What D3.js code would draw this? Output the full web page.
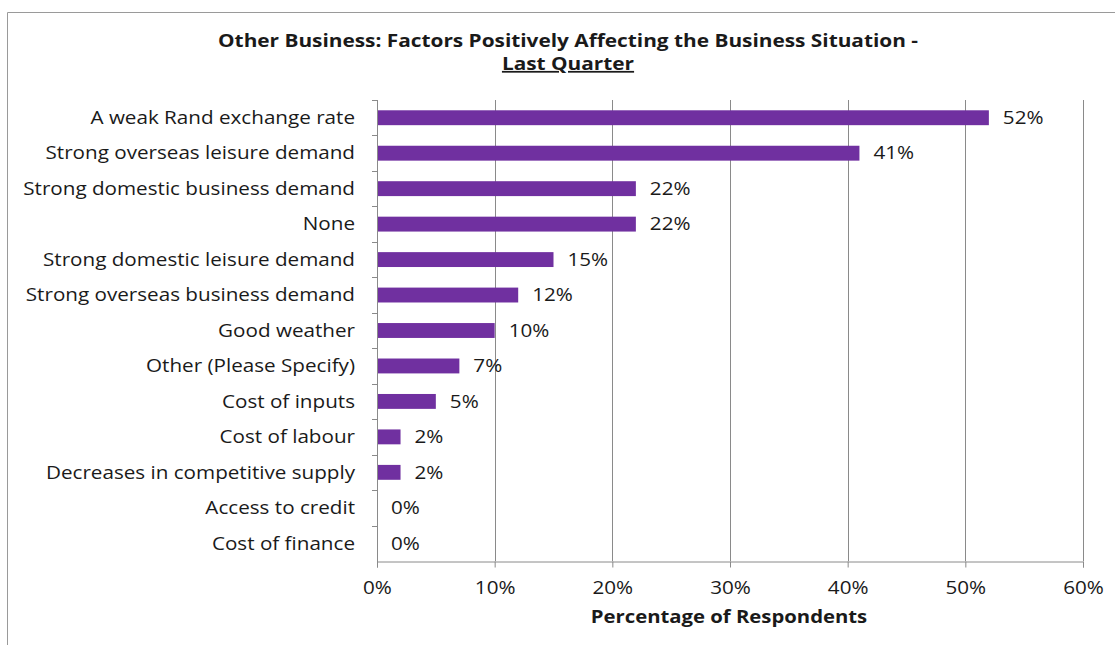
<!DOCTYPE html>
<html>
<head>
<meta charset="utf-8">
<script src="https://cdn.jsdelivr.net/npm/d3@7"></script>
<style>
  html, body { margin: 0; padding: 0; background: #fff; }
  svg { display: block; }
  text { font-family: "Open Sans", sans-serif; fill: #1a1a1a; }
</style>
</head>
<body>
<svg id="chart" width="1115" height="645"></svg>
<script>
// Survey categories, top to bottom
const categories = [
  "A weak Rand exchange rate",
  "Strong overseas leisure demand",
  "Strong domestic business demand",
  "None",
  "Strong domestic leisure demand",
  "Strong overseas business demand",
  "Good weather",
  "Other (Please Specify)",
  "Cost of inputs",
  "Cost of labour",
  "Decreases in competitive supply",
  "Access to credit",
  "Cost of finance"
];
// Share of respondents (%)
const values = [52, 41, 22, 22, 15, 12, 10, 7, 5, 2, 2, 0, 0];
// Horizontal axis ticks (%)
const xTicks = [0, 10, 20, 30, 40, 50, 60];

const titleLine1 = "Other Business: Factors Positively Affecting the Business Situation -";
const titleLine2 = "Last Quarter";
const xTitle = "Percentage of Respondents";

const svg = d3.select("#chart");
const W = 1115, H = 645;
const plot = { left: 377, right: 1083, top: 100, bottom: 561 };
const gridColor = "#8a8a8a";
const barColor = "#7030A0";
const labelFont = 17.5;
const SX = 1.18; // horizontal widening of the text glyphs

// Places a text at (x, y) with its glyphs widened horizontally
function wideText(parent, x, y, str, opts = {}) {
  return parent.append("text")
    .attr("transform", `translate(${x},${y}) scale(${opts.sx || SX},1)`)
    .attr("text-anchor", opts.anchor || "start")
    .attr("dy", opts.dy || 0)
    .attr("font-size", opts.size || labelFont)
    .attr("font-weight", opts.weight || "normal")
    .text(str);
}

// Outer chart frame
svg.append("path")
  .attr("d", `M7.5,${H} L7.5,12.5 L${W},12.5`)
  .attr("fill", "none").attr("stroke", "#9a9a9a").attr("stroke-width", 1);

const x = d3.scaleLinear().domain([0, 60]).range([plot.left, plot.right]);
const y = d3.scaleBand().domain(categories).range([plot.top, plot.bottom]).paddingInner(0.58).paddingOuter(0.29);

// Vertical gridlines
svg.append("g").selectAll("line").data(xTicks.filter(d => d > 0)).join("line")
  .attr("x1", d => Math.round(x(d)) + 0.5).attr("x2", d => Math.round(x(d)) + 0.5)
  .attr("y1", plot.top).attr("y2", plot.bottom)
  .attr("stroke", gridColor).attr("stroke-width", 1);

// Bars
svg.append("g").selectAll("rect").data(values).join("rect")
  .attr("x", x(0))
  .attr("y", (d, i) => y(categories[i]))
  .attr("width", d => x(d) - x(0))
  .attr("height", y.bandwidth())
  .attr("fill", barColor);

// Value labels
const gv = svg.append("g");
values.forEach((d, i) => {
  wideText(gv, x(d) + 14, y(categories[i]) + y.bandwidth() / 2, d + "%", { dy: "0.36em" });
});

// Bottom axis
const xAxis = d3.axisBottom(x).tickValues(xTicks).tickFormat(d => d + "%").tickSize(6).tickPadding(14);
const gx = svg.append("g").attr("transform", `translate(0,${plot.bottom + 0.5})`).call(xAxis);
gx.select(".domain").attr("stroke", gridColor);
gx.selectAll(".tick line").attr("stroke", gridColor);
gx.selectAll(".tick text")
  .attr("font-size", labelFont)
  .attr("font-family", "'Open Sans', sans-serif")
  .attr("transform", `scale(${SX},1)`)
  .attr("fill", "#1a1a1a");

// Left axis: tick marks sit between categories
const yEdges = d3.scaleLinear().domain([0, categories.length]).range([plot.top, plot.bottom]);
const gy = svg.append("g");
gy.append("line")
  .attr("x1", plot.left + 0.5).attr("x2", plot.left + 0.5)
  .attr("y1", plot.top).attr("y2", plot.bottom + 6)
  .attr("stroke", gridColor);
gy.selectAll("line.edge").data(d3.range(categories.length)).join("line").attr("class", "edge")
  .attr("x1", plot.left - 5).attr("x2", plot.left)
  .attr("y1", d => Math.round(yEdges(d)) + 0.5).attr("y2", d => Math.round(yEdges(d)) + 0.5)
  .attr("stroke", gridColor);

// Category labels
const gc = svg.append("g");
categories.forEach(c => {
  wideText(gc, plot.left - 22, y(c) + y.bandwidth() / 2, c, { anchor: "end", dy: "0.36em" });
});

// Title
const tx = 568;
wideText(svg, tx, 46.5, titleLine1, { anchor: "middle", weight: "bold", size: 17.5, sx: 1.19 });
wideText(svg, tx, 70, titleLine2, { anchor: "middle", weight: "bold", size: 17.5, sx: 1.19 })
  .attr("text-decoration", "underline");

// Axis title
wideText(svg, 729, 623, xTitle, { anchor: "middle", weight: "bold", size: 17.5, sx: 1.16 });
</script>
</body>
</html>
